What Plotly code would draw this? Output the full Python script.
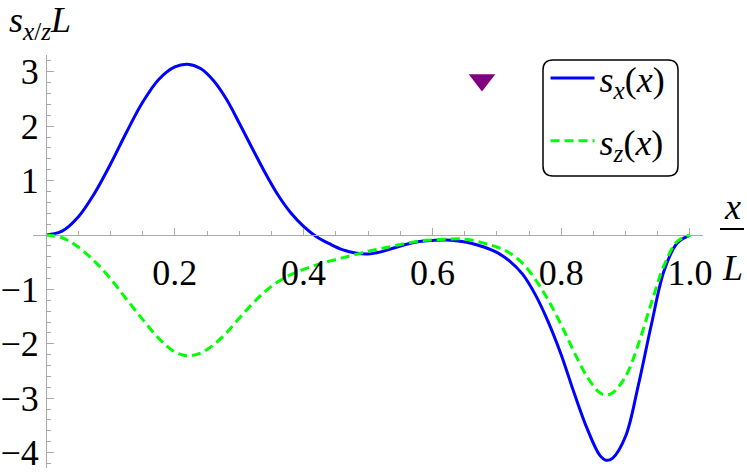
import plotly.graph_objects as go

# curve samples (x/L, value)
x_sx = [0.0, 0.025, 0.05, 0.075, 0.10, 0.125, 0.15, 0.175, 0.20, 0.22, 0.24, 0.26, 0.28, 0.30,
        0.32, 0.34, 0.36, 0.38, 0.40, 0.42, 0.44, 0.46, 0.48, 0.50, 0.52, 0.54, 0.56, 0.58,
        0.60, 0.62, 0.64, 0.66, 0.68, 0.70, 0.72, 0.74, 0.76, 0.78, 0.80, 0.82, 0.84, 0.86,
        0.87, 0.88, 0.90, 0.92, 0.94, 0.96, 0.98, 1.0]
sx = [0.0, 0.07, 0.33, 0.76, 1.30, 1.89, 2.44, 2.86, 3.09, 3.14, 3.06, 2.84, 2.50, 2.06,
      1.60, 1.15, 0.74, 0.41, 0.16, -0.03, -0.16, -0.27, -0.33, -0.35, -0.31, -0.24, -0.17, -0.12,
      -0.10, -0.09, -0.11, -0.15, -0.22, -0.32, -0.48, -0.72, -1.10, -1.60, -2.20, -2.90, -3.55, -4.05,
      -4.14, -4.10, -3.70, -2.75, -1.65, -0.65, -0.15, 0.0]

x_sz = [0.0, 0.025, 0.05, 0.075, 0.10, 0.125, 0.15, 0.175, 0.20, 0.22, 0.24, 0.26, 0.28, 0.30,
        0.32, 0.34, 0.36, 0.38, 0.40, 0.42, 0.44, 0.46, 0.48, 0.50, 0.52, 0.54, 0.56, 0.58,
        0.60, 0.62, 0.64, 0.66, 0.68, 0.70, 0.72, 0.74, 0.76, 0.78, 0.80, 0.82, 0.84, 0.86,
        0.87, 0.88, 0.90, 0.92, 0.94, 0.96, 0.98, 1.0]
sz = [0.0, -0.05, -0.22, -0.48, -0.80, -1.18, -1.55, -1.90, -2.15, -2.22, -2.17, -2.02, -1.80, -1.53,
      -1.27, -1.04, -0.86, -0.73, -0.63, -0.55, -0.48, -0.42, -0.36, -0.30, -0.25, -0.20, -0.15, -0.11,
      -0.09, -0.08, -0.07, -0.09, -0.15, -0.22, -0.33, -0.52, -0.82, -1.20, -1.65, -2.15, -2.60, -2.90,
      -2.94, -2.90, -2.60, -2.00, -1.25, -0.55, -0.12, 0.0]

marker_x = [0.677]
marker_y = [2.85]

xticks = [0.2, 0.4, 0.6, 0.8, 1.0]
xticklabels = ["0.2", "0.4", "0.6", "0.8", "1.0"]
yticks = [-4, -3, -2, -1, 1, 2, 3]
yticklabels = ["\u22124", "\u22123", "\u22122", "\u22121", "1", "2", "3"]

W, H = 747, 475
ml, mr, mt, mb = 33, 44, 55, 7
xr = [-0.0202, 1.0202]
yr = [-4.283, 3.309]

fig = go.Figure()

fig.add_trace(go.Scatter(
    x=x_sx, y=sx, name="<i>s</i><sub><i>x</i></sub>(<i>x</i>)",
    mode="lines", line=dict(color="#0000ff", width=3, shape="spline"),
    legendgroup="a"))

fig.add_trace(go.Scatter(
    x=x_sz, y=sz, name="<i>s</i><sub><i>z</i></sub>(<i>x</i>)",
    mode="lines", line=dict(color="#00ff00", width=3, shape="spline", dash="9px,5px"),
    legendgroup="b"))

fig.add_trace(go.Scatter(
    x=marker_x, y=marker_y, mode="markers", showlegend=False,
    marker=dict(symbol="triangle-down", size=23, color="#800080")))

axcol = "#aaaaaa"
FS = 36
tickfont = dict(family="Liberation Serif", size=FS, color="black")

fig.update_layout(
    width=W, height=H,
    margin=dict(l=ml, r=mr, t=mt, b=mb, autoexpand=False),
    plot_bgcolor="white", paper_bgcolor="white",
    showlegend=True,
    legend=dict(x=0.765, y=1.017, xanchor="left", yanchor="top",
                bgcolor="rgba(0,0,0,0)", borderwidth=0,
                font=dict(family="Liberation Serif", size=FS, color="black"),
                tracegroupgap=13, itemwidth=44),
    xaxis=dict(range=xr, anchor="free", position=(0 - yr[0]) / (yr[1] - yr[0]),
               automargin=False,
               showgrid=False, zeroline=False, showline=True, linecolor=axcol, linewidth=1,
               tickmode="array", tickvals=xticks, ticktext=xticklabels,
               ticks="inside", ticklen=7, tickcolor=axcol, tickwidth=1,
               tickfont=tickfont, ticklabelstandoff=6,
               minor=dict(ticks="inside", tickmode="linear", tick0=0, dtick=0.05,
                          ticklen=4, tickcolor=axcol, showgrid=False)),
    yaxis=dict(range=yr, anchor="free", position=(0 - xr[0]) / (xr[1] - xr[0]),
               automargin=False,
               showgrid=False, zeroline=False, showline=True, linecolor=axcol, linewidth=1,
               tickmode="array", tickvals=yticks, ticktext=yticklabels,
               ticks="inside", ticklen=7, tickcolor=axcol, tickwidth=1,
               tickfont=tickfont, ticklabelstandoff=0,
               minor=dict(ticks="inside", tickmode="linear", tick0=0, dtick=0.2,
                          ticklen=4, tickcolor=axcol, showgrid=False)),
)

# rounded legend frame
def px_x(p):
    return (p - ml) / (W - ml - mr)

def px_y(p):
    return (H - mb - p) / (H - mt - mb)

bx0, bx1, by0, by1 = px_x(543), px_x(678), px_y(176), px_y(60)
rx, ry = 10 / (W - ml - mr), 10 / (H - mt - mb)
path = (f"M {bx0 + rx},{by1} L {bx1 - rx},{by1} Q {bx1},{by1} {bx1},{by1 - ry} "
        f"L {bx1},{by0 + ry} Q {bx1},{by0} {bx1 - rx},{by0} "
        f"L {bx0 + rx},{by0} Q {bx0},{by0} {bx0},{by0 + ry} "
        f"L {bx0},{by1 - ry} Q {bx0},{by1} {bx0 + rx},{by1} Z")
fig.add_shape(type="path", path=path, xref="paper", yref="paper",
              line=dict(color="black", width=1.5), fillcolor="rgba(0,0,0,0)")

labfont = dict(family="Liberation Serif", size=FS, color="black")

# y axis label
fig.add_annotation(text="<i>s</i><sub><i>x</i>/<i>z</i></sub><i>L</i>",
                   xref="paper", yref="paper", x=px_x(7), y=px_y(-2),
                   xanchor="left", yanchor="top", showarrow=False, font=labfont)

# x axis label as a fraction x / L
fig.add_annotation(text="<i>x</i>", xref="paper", yref="paper",
                   x=px_x(732), y=px_y(229), xanchor="center", yanchor="bottom",
                   showarrow=False, font=labfont)
fig.add_annotation(text="<i>L</i>", xref="paper", yref="paper",
                   x=px_x(732), y=px_y(246), xanchor="center", yanchor="top",
                   showarrow=False, font=labfont)
fig.add_shape(type="line", xref="paper", yref="paper",
              x0=px_x(720), x1=px_x(744), y0=px_y(229), y1=px_y(229),
              line=dict(color="black", width=2))

# drop the default page margin so the figure sits at the window corner
fig.write_html("out.html", config={"displayModeBar": False},
               post_script="document.body.style.margin='0';")
